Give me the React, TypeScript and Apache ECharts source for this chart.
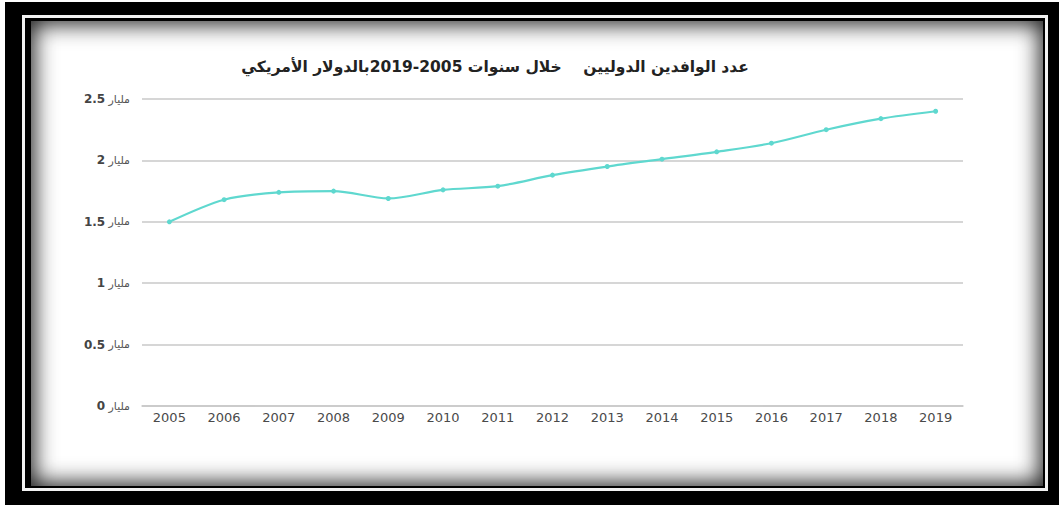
import React, { useEffect, useRef } from "react";
import * as echarts from "echarts";

const titleText = "عدد الوافدين الدوليين    خلال سنوات 2005-2019بالدولار الأمريكي";
const years = ["2005", "2006", "2007", "2008", "2009", "2010", "2011", "2012", "2013", "2014", "2015", "2016", "2017", "2018", "2019"];
const arrivals = [1.5, 1.68, 1.74, 1.75, 1.69, 1.76, 1.79, 1.88, 1.95, 2.01, 2.07, 2.14, 2.25, 2.34, 2.4];
const unitWord = "مليار";

export default function App() {
  const ref = useRef<HTMLDivElement>(null);
  useEffect(() => {
    if (!ref.current) return;
    const chart = echarts.init(ref.current, undefined, { renderer: "svg" });
    chart.setOption({
      animation: false,
      backgroundColor: "transparent",
      title: {
        text: titleText,
        left: 490,
        top: 54,
        textAlign: "center",
        textStyle: {
          fontFamily: "DejaVu Sans",
          fontSize: 15.5,
          fontWeight: "bold",
          color: "#222",
        },
      },
      grid: { left: 142, right: 96, top: 99, bottom: 99, containLabel: false },
      xAxis: {
        type: "category",
        data: years,
        boundaryGap: true,
        axisLine: { show: true, lineStyle: { color: "#c8c8c8", width: 1.5 } },
        axisTick: { show: false },
        axisLabel: {
          color: "#4a4a4a",
          fontFamily: "DejaVu Sans",
          fontSize: 13,
          margin: 5,
        },
      },
      yAxis: {
        type: "value",
        min: 0,
        max: 2.5,
        interval: 0.5,
        axisLine: { show: false },
        axisTick: { show: false },
        splitLine: { lineStyle: { color: "#c8c8c8", width: 1.5 } },
        axisLabel: {
          formatter: (v: number) => "{n|" + v + "} {u|" + unitWord + "}",
          margin: 12,
          rich: {
            n: { color: "#444", fontFamily: "DejaVu Sans", fontSize: 12, fontWeight: "bold" },
            u: { color: "#555", fontFamily: "DejaVu Sans", fontSize: 11 },
          },
        },
      },
      series: [
        {
          type: "line",
          data: arrivals,
          smooth: 0.3,
          symbol: "circle",
          symbolSize: 5,
          lineStyle: { color: "#5fd8cf", width: 2.2 },
          itemStyle: { color: "#5fd8cf" },
        },
      ],
    });
    return () => chart.dispose();
  }, []);

  return (
    <div style={{ position: "fixed", left: 0, top: 0, width: 1059, height: 505, background: "#fff", overflow: "hidden" }}>
      <div style={{ position: "absolute", left: 5, top: 2, right: 0, bottom: 0, background: "#000" }} />
      <div style={{ position: "absolute", left: 22, top: 15, width: 1048 - 22 - 6, height: 491 - 15 - 6, border: "3px solid #f2f2f2" }} />
      <div
        style={{
          position: "absolute",
          left: 31,
          top: 21,
          width: 1043 - 31,
          height: 486 - 21,
          background: "#fff",
          boxShadow: "inset 0 0 22px 3px rgba(0,0,0,0.9)",
        }}
      />
      <div ref={ref} style={{ position: "absolute", left: 0, top: 0, width: 1059, height: 505 }} />
    </div>
  );
}
